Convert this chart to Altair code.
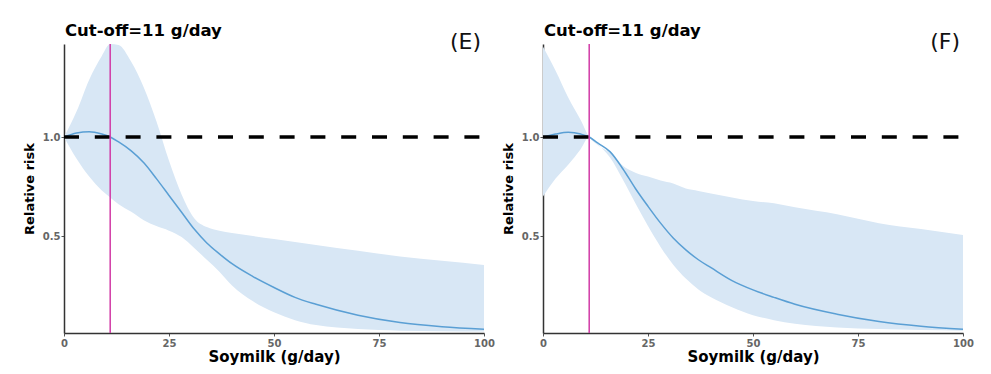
import altair as alt
import pandas as pd

FONT = "DejaVu Sans"

x_vals = [0, 3, 6, 9, 11, 13, 16, 19, 22, 25, 28, 31, 34, 37, 40, 45, 50, 55, 60, 70, 80, 90, 100]

e_rr = [1.0, 1.02, 1.027, 1.015, 1.0, 0.975, 0.93, 0.87, 0.79, 0.705, 0.62, 0.535, 0.465, 0.41, 0.36,
        0.295, 0.24, 0.19, 0.155, 0.1, 0.063, 0.042, 0.029]
e_hi = [1.0, 1.13, 1.29, 1.41, 1.47, 1.465, 1.38, 1.25, 1.08, 0.88, 0.71, 0.59, 0.545, 0.527, 0.515,
        0.5, 0.485, 0.47, 0.455, 0.425, 0.397, 0.375, 0.354]
e_lo = [1.0, 0.89, 0.80, 0.73, 0.695, 0.66, 0.622, 0.58, 0.55, 0.527, 0.495, 0.44, 0.38, 0.32, 0.25,
        0.17, 0.115, 0.075, 0.05, 0.03, 0.022, 0.019, 0.017]

f_rr = [1.0, 1.015, 1.024, 1.015, 1.0, 0.97, 0.925, 0.84, 0.74, 0.65, 0.565, 0.49, 0.43, 0.38, 0.34,
        0.275, 0.228, 0.19, 0.155, 0.105, 0.068, 0.044, 0.029]
f_hi = [1.456, 1.335, 1.2, 1.085, 1.0, 0.96, 0.92, 0.855, 0.82, 0.80, 0.78, 0.765, 0.74, 0.728, 0.715,
        0.695, 0.677, 0.665, 0.645, 0.61, 0.565, 0.535, 0.505]
f_lo = [0.699, 0.79, 0.86, 0.94, 1.0, 0.965, 0.895, 0.785, 0.665, 0.55, 0.445, 0.355, 0.285, 0.23, 0.19,
        0.14, 0.1, 0.075, 0.057, 0.038, 0.03, 0.025, 0.022]

cutoff = 11
ref_rr = 1.0
title_text = "Cut-off=11 g/day"
x_ticks = [0, 25, 50, 75, 100]
y_ticks = [0.5, 1.0]
panels = [("(E)", e_rr, e_lo, e_hi), ("(F)", f_rr, f_lo, f_hi)]

X_DOM = [0, 100]
Y_DOM = [0.01, 1.47]


def panel(label, rr, lo, hi):
    df = pd.DataFrame({"x": x_vals, "rr": rr, "lo": lo, "hi": hi})
    xs = alt.Scale(domain=X_DOM, nice=False, zero=False)
    ys = alt.Scale(domain=Y_DOM, nice=False, zero=False)
    xax = alt.Axis(values=x_ticks, title="Soymilk (g/day)", grid=False, domainColor="#333333",
                   domainWidth=1.5, tickColor="#555555", tickSize=3, labelColor="#666666",
                   labelFontWeight="bold", labelFontSize=10, labelFont=FONT, labelPadding=2,
                   titleFont=FONT, titleFontSize=15, titleFontWeight="bold", titleColor="#000000",
                   titlePadding=1, labelFlush=False)
    yax = alt.Axis(values=y_ticks, format=".1f", title="Relative risk", grid=False,
                   domainColor="#333333", domainWidth=1.5, tickColor="#555555", tickSize=3,
                   labelColor="#666666", labelFontWeight="bold", labelFontSize=10, labelFont=FONT,
                   labelPadding=1, titleFont=FONT, titleFontSize=13, titleFontWeight="bold",
                   titleColor="#000000", titlePadding=6)
    base = alt.Chart(df)
    band = base.mark_area(color="#d8e7f5", opacity=1, clip=True, interpolate="monotone").encode(
        x=alt.X("x:Q", scale=xs, axis=xax),
        y=alt.Y("lo:Q", scale=ys, axis=yax),
        y2="hi:Q",
    )
    line = base.mark_line(color="#5a9fd4", strokeWidth=1.5, clip=True, interpolate="monotone").encode(
        x=alt.X("x:Q", scale=xs), y=alt.Y("rr:Q", scale=ys), order="x:Q"
    )
    ref = alt.Chart(pd.DataFrame({"y": [ref_rr], "x0": [X_DOM[0]], "x1": [X_DOM[1]]})).mark_rule(
        color="#000000", strokeWidth=3.5, strokeDash=[15, 15.8]
    ).encode(y=alt.Y("y:Q", scale=ys), x=alt.X("x0:Q", scale=xs), x2="x1:Q")
    vline = alt.Chart(pd.DataFrame({"x": [cutoff]})).mark_rule(
        color="#d13aa6", strokeWidth=1.5
    ).encode(x=alt.X("x:Q", scale=xs))
    lab = alt.Chart(pd.DataFrame({"x": [100], "y": [1.445], "t": [label]})).mark_text(
        align="right", baseline="alphabetic", fontSize=22, font=FONT, color="#111111", dx=-3
    ).encode(x=alt.X("x:Q", scale=xs), y=alt.Y("y:Q", scale=ys), text="t:N")
    ttl = alt.Chart(pd.DataFrame({"x": [0], "y": [1.51], "t": [title_text]})).mark_text(
        align="left", baseline="alphabetic", fontSize=16.5, fontWeight="bold", font=FONT,
        color="#000000", dx=1
    ).encode(x=alt.X("x:Q", scale=xs), y=alt.Y("y:Q", scale=ys), text="t:N")
    return alt.layer(band, line, ref, vline, lab, ttl).properties(width=420, height=289)


chart = alt.hconcat(*[panel(*p) for p in panels], spacing=59, bounds="flush").properties(
    padding={"left": 15, "top": 15, "right": 5, "bottom": 5},
    background="#ffffff",
).configure_view(stroke=None)

chart.save("out.html", embed_options={"renderer": "svg", "actions": False})
